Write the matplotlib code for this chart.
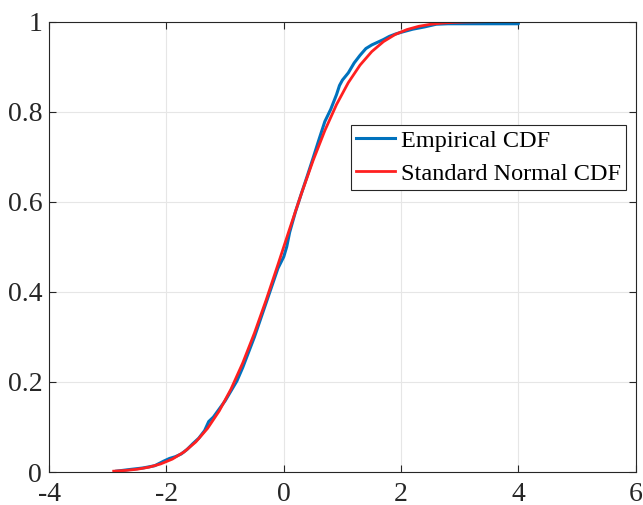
import matplotlib
matplotlib.use("Agg")
import matplotlib.pyplot as plt

# Empirical CDF
emp_x = [-2.85, -2.6, -2.4, -2.2, -2.05, -1.95, -1.85, -1.75, -1.65, -1.55, -1.45, -1.35,
         -1.28, -1.2, -1.1, -1.0, -0.9, -0.8, -0.7, -0.6, -0.5, -0.4, -0.3, -0.2, -0.1,
         0.0, 0.05, 0.1, 0.2, 0.3, 0.4, 0.5, 0.6, 0.7, 0.8, 0.9, 0.95, 1.0, 1.1, 1.2, 1.3,
         1.4, 1.5, 1.6, 1.7, 1.8, 1.9, 2.0, 2.2, 2.4, 2.6, 2.8, 4.0, 4.0]
emp_y = [0.002, 0.006, 0.009, 0.014, 0.024, 0.030, 0.034, 0.040, 0.050, 0.063, 0.075, 0.092,
         0.112, 0.122, 0.140, 0.158, 0.180, 0.202, 0.232, 0.266, 0.300, 0.338, 0.376, 0.414,
         0.452, 0.478, 0.500, 0.532, 0.578, 0.618, 0.657, 0.697, 0.738, 0.778, 0.805, 0.838,
         0.858, 0.870, 0.886, 0.908, 0.925, 0.940, 0.948, 0.954, 0.960, 0.967, 0.972, 0.976,
         0.983, 0.988, 0.994, 0.995, 0.995, 1.0]

# Standard normal CDF curve
norm_x = [-2.9, -2.7, -2.5, -2.3, -2.1, -1.9, -1.7, -1.5, -1.3, -1.1, -0.9, -0.7, -0.5,
          -0.3, -0.1, 0.1, 0.3, 0.5, 0.7, 0.9, 1.1, 1.3, 1.5, 1.7, 1.9, 2.1, 2.3, 2.5,
          2.7, 2.9, 3.1, 3.5, 4.0]
norm_y = [0.0019, 0.0035, 0.0062, 0.0107, 0.0179, 0.0287, 0.0446, 0.0668, 0.0968, 0.1357,
          0.1841, 0.2420, 0.3085, 0.3821, 0.4602, 0.5398, 0.6179, 0.6915, 0.7580, 0.8159,
          0.8643, 0.9032, 0.9332, 0.9554, 0.9713, 0.9821, 0.9893, 0.9938, 0.9965, 0.9981,
          0.9990, 0.9998, 1.0]

x_ticks = [-4, -2, 0, 2, 4, 6]
y_ticks = [0, 0.2, 0.4, 0.6, 0.8, 1]
y_tick_labels = ["0", "0.2", "0.4", "0.6", "0.8", "1"]
labels = ["Empirical CDF", "Standard Normal CDF"]

plt.rcParams['font.family'] = ['Liberation Serif', 'DejaVu Serif']

fig = plt.figure(figsize=(6.43, 5.05), dpi=100)
ax = fig.add_axes([0.0765, 0.0653, 0.9121, 0.8921])

ax.plot(emp_x, emp_y, color='#0072BD', lw=2.2, label=labels[0])
ax.plot(norm_x, norm_y, color='#FF2020', lw=2.0, label=labels[1])

ax.set_xlim(-4, 6)
ax.set_ylim(0, 1)
ax.set_xticks(x_ticks)
ax.set_xticklabels([str(t) for t in x_ticks])
ax.set_yticks(y_ticks)
ax.set_yticklabels(y_tick_labels)

ax.grid(True, color='#E6E6E6', lw=0.8)
ax.set_axisbelow(True)
for s in ax.spines.values():
    s.set_color('#262626')
    s.set_linewidth(0.8)
ax.tick_params(direction='in', length=5, width=0.8, color='#262626', labelcolor='#262626',
               labelsize=20, top=True, right=True)
ax.tick_params(axis='x', pad=7.5)
ax.tick_params(axis='y', pad=5)

leg = ax.legend(loc='upper left', bbox_to_anchor=(0.515, 0.77), fontsize=17.5,
                frameon=True, fancybox=False, edgecolor='#262626', framealpha=1,
                handlelength=1.6, handletextpad=0.25, labelspacing=0.45,
                borderpad=0.2, borderaxespad=0)
leg.get_frame().set_linewidth(0.8)

fig.savefig('out.png', dpi=100)
